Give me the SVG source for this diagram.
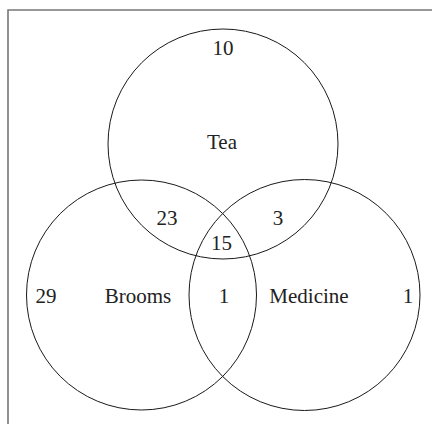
<svg xmlns="http://www.w3.org/2000/svg" width="432" height="424" viewBox="0 0 432 424">
<style>
.c{fill:none;stroke:#1a1a1a;stroke-width:1}
.t{font-family:"Liberation Serif","Times New Roman",serif;font-size:21px;fill:#222;text-anchor:middle}
.b{stroke:#777;stroke-width:1.6;fill:none}
</style>
<rect width="432" height="424" fill="#fff"/>
<g id="frame"><path class="b" d="M432 10H8V424"/></g>
<g id="tea"><circle class="c" cx="223" cy="144" r="115"/><text class="t" x="222" y="149">Tea</text></g>
<g id="brooms"><circle class="c" cx="141.5" cy="295" r="115"/><text class="t" x="138" y="303">Brooms</text></g>
<g id="medicine"><circle class="c" cx="304.5" cy="295" r="115.5"/><text class="t" x="309" y="303">Medicine</text></g>
<g id="counts">
<text class="t" x="223" y="55">10</text>
<text class="t" x="167" y="225">23</text>
<text class="t" x="278" y="225">3</text>
<text class="t" x="221.5" y="250">15</text>
<text class="t" x="46" y="303">29</text>
<text class="t" x="224" y="303">1</text>
<text class="t" x="408" y="303">1</text>
</g>
</svg>
